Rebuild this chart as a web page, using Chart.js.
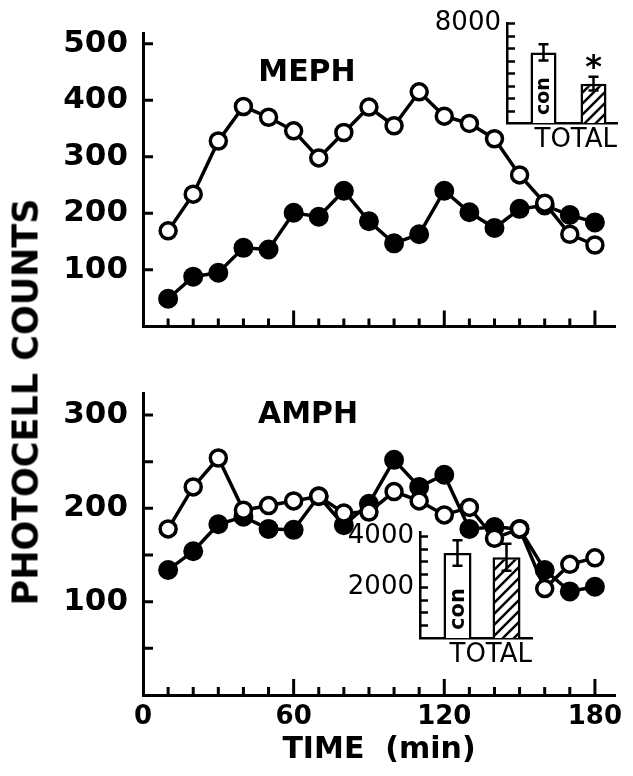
<!DOCTYPE html>
<html>
<head>
<meta charset="utf-8">
<script src="https://cdn.jsdelivr.net/npm/chart.js@4.4.1/dist/chart.umd.min.js"></script>
<style>
  body { margin: 0; background: #fff; }
  #page { position: relative; width: 633px; height: 776px; overflow: hidden; background: #fff; }
  canvas { position: absolute; }
  .lbl { position: absolute; font-family: "DejaVu Sans"; font-weight: bold; color: #000; white-space: nowrap; line-height: 1; transform: translate(-50%, -50%); }
</style>
</head>
<body>
<div id="page">
  <canvas id="mephChart" width="633" height="360" style="left:0;top:0"></canvas>
  <canvas id="amphChart" width="633" height="416" style="left:0;top:360px"></canvas>
  <canvas id="mephTotal" width="233" height="160" style="left:400px;top:0"></canvas>
  <canvas id="amphTotal" width="250" height="175" style="left:300px;top:500px"></canvas>
  <div class="lbl" style="left:26px;top:402px;font-size:35px;transform:translate(-50%,-50%) rotate(-90deg)">PHOTOCELL COUNTS</div>
  <div class="lbl" style="left:307px;top:71px;font-size:30px">MEPH</div>
  <div class="lbl" style="left:308px;top:413px;font-size:30px">AMPH</div>
</div>
<script>
// time points (min)
const times = [10, 20, 30, 40, 50, 60, 70, 80, 90, 100, 110, 120, 130, 140, 150, 160, 170, 180];

// MEPH panel
const mephControl = [169, 234, 328, 389, 370, 346, 298, 343, 388, 355, 415, 372, 359, 332, 268, 218, 163, 144];
const mephDrug = [49, 88, 95, 139, 136, 201, 194, 240, 186, 147, 163, 240, 202, 174, 208, 214, 197, 184];

// AMPH panel
const amphControl = [178, 223, 254, 198, 203, 208, 213, 195, 196, 218, 208, 193, 201, 168, 178, 114, 140, 147];
const amphDrug = [134, 154, 183, 191, 178, 177, 213, 182, 205, 252, 223, 236, 178, 180, 178, 134, 111, 116];

// insets: totals
const insetGroups = ['con', 'drug'];
const mephTotals = [5650, 3150];
const mephTotalErr = [650, 550];
const mephMarks = ['', '*'];
const amphTotals = [3330, 3160];
const amphTotalErr = [500, 530];
const amphMarks = ['', ''];

// tick labels
const timeTickLabels = [0, 60, 120, 180];
const timeMinorTicks = [10, 20, 30, 40, 50, 60, 70, 80, 90, 100, 110, 120, 130, 140, 150, 160, 170, 180];
const timeMajorTicks = [60, 120, 180];
const mephYTicks = [100, 200, 300, 400, 500];
const amphYTicks = [50, 100, 150, 200, 250, 300];
const amphYLabels = [100, 200, 300];
const mephTotalTicks = [1000, 2000, 3000, 4000, 5000, 6000, 7000, 8000];
const mephTotalLabels = [8000];
const amphTotalTicks = [500, 1000, 1500, 2000, 2500, 3000, 3500, 4000];
const amphTotalLabels = [2000, 4000];

Chart.defaults.font.family = 'DejaVu Sans';
Chart.defaults.color = '#000';

// tick marks drawn inside the axes (the figure has them pointing inward)
const innerTicks = {
  id: 'innerTicks',
  afterDraw(chart, args, opts) {
    const ctx = chart.ctx;
    const area = chart.chartArea;
    const xs = chart.scales.x, ys = chart.scales.y;
    ctx.save();
    ctx.strokeStyle = '#000';
    ctx.lineWidth = opts.width || 3;
    ctx.beginPath();
    (opts.xValues || []).forEach(v => {
      const px = xs.getPixelForValue(v);
      const len = (opts.xMajor || []).includes(v) ? opts.xMajorLen : opts.xLen;
      ctx.moveTo(px, area.bottom);
      ctx.lineTo(px, area.bottom - len);
    });
    (opts.yValues || []).forEach(v => {
      const py = ys.getPixelForValue(v);
      ctx.moveTo(area.left, py);
      ctx.lineTo(area.left + opts.yLen, py);
    });
    ctx.stroke();
    ctx.restore();
  }
};

// inward ticks, error bars, significance mark and the "con" label on the inset bars
const barExtras = {
  id: 'barExtras',
  afterDatasetsDraw(chart, args, opts) {
    const ctx = chart.ctx;
    const ys = chart.scales.y;
    const area = chart.chartArea;
    const meta = chart.getDatasetMeta(0);
    ctx.save();
    ctx.strokeStyle = '#000';
    ctx.fillStyle = '#000';
    ctx.lineWidth = 2.5;
    ctx.beginPath();
    opts.yTicks.forEach(v => {
      const py = Math.round(ys.getPixelForValue(v)) + 0.5;
      ctx.moveTo(area.left, py);
      ctx.lineTo(area.left + 8, py);
    });
    ctx.stroke();
    meta.data.forEach((bar, i) => {
      const v = opts.values[i], e = opts.errors[i];
      const yHi = ys.getPixelForValue(v + e);
      const yLo = ys.getPixelForValue(v - e);
      ctx.beginPath();
      ctx.moveTo(bar.x, yHi); ctx.lineTo(bar.x, yLo);
      ctx.moveTo(bar.x - 5, yHi); ctx.lineTo(bar.x + 5, yHi);
      ctx.moveTo(bar.x - 5, yLo); ctx.lineTo(bar.x + 5, yLo);
      ctx.stroke();
      if (opts.marks[i]) {
        ctx.font = 'bold 32px "DejaVu Sans"';
        ctx.textAlign = 'center';
        ctx.textBaseline = 'alphabetic';
        const m = ctx.measureText(opts.marks[i]);
        const cy = yHi - 15;
        ctx.fillText(opts.marks[i], bar.x, cy + (m.actualBoundingBoxAscent - m.actualBoundingBoxDescent) / 2);
      }
    });
    // group name written up the first bar
    const b = meta.data[0];
    ctx.font = 'bold ' + opts.labelSize + 'px "DejaVu Sans"';
    const w = ctx.measureText(insetGroups[0]).width;
    ctx.translate(b.x, b.base - 8 - w / 2);
    ctx.rotate(-Math.PI / 2);
    ctx.textAlign = 'center';
    ctx.textBaseline = 'middle';
    ctx.fillText(insetGroups[0], 0, 1);
    ctx.restore();
  }
};

function makeHatch() {
  const c = document.createElement('canvas');
  c.width = 11; c.height = 11;
  const g = c.getContext('2d');
  g.fillStyle = '#fff';
  g.fillRect(0, 0, 11, 11);
  g.strokeStyle = '#000';
  g.lineWidth = 2.5;
  g.beginPath();
  g.moveTo(0, 11); g.lineTo(11, 0);
  g.moveTo(-3, 3); g.lineTo(3, -3);
  g.moveTo(8, 14); g.lineTo(14, 8);
  g.stroke();
  return g.createPattern(c, 'repeat');
}

function lineSets(control, drug) {
  return [
    {
      label: 'control',
      data: times.map((t, i) => ({ x: t, y: control[i] })),
      borderColor: '#000',
      borderWidth: 3.5,
      pointRadius: 8,
      pointBorderWidth: 3.5,
      pointBackgroundColor: '#fff',
      pointBorderColor: '#000',
      tension: 0,
    },
    {
      label: 'drug',
      data: times.map((t, i) => ({ x: t, y: drug[i] })),
      borderColor: '#000',
      borderWidth: 3.5,
      pointRadius: 9,
      pointBorderWidth: 2,
      pointBackgroundColor: '#000',
      pointBorderColor: '#000',
      tension: 0,
    },
  ];
}

const axisBorder = { display: true, color: '#000', width: 3 };
const noGrid = { display: false, drawTicks: false };

// ticks come straight from the named arrays above
const useTicks = values => s => { s.ticks = values.map(v => ({ value: v })); };

// top panel (MEPH)
new Chart(document.getElementById('mephChart'), {
  type: 'line',
  data: { datasets: lineSets(mephControl, mephDrug) },
  options: {
    responsive: false,
    animation: false,
    layout: { padding: { left: 0, right: 18, top: 24, bottom: 11 } },
    plugins: {
      legend: { display: false },
      tooltip: { enabled: false },
      innerTicks: { xValues: timeMinorTicks, xMajor: timeMajorTicks, xLen: 8, xMajorLen: 16, yValues: mephYTicks, yLen: 10, width: 3 },
    },
    scales: {
      x: {
        type: 'linear', min: 0, max: 188,
        ticks: { display: false },
        grid: noGrid,
        border: axisBorder,
        afterFit(s) { s.height = 0; },
      },
      y: {
        min: 0, max: 518,
        ticks: { autoSkip: false, font: { size: 31, weight: 'bold' }, padding: 15 },
        grid: noGrid,
        border: axisBorder,
        afterFit(s) { s.width = 143; },
        afterBuildTicks: useTicks(mephYTicks),
      },
    },
  },
  plugins: [innerTicks],
});

// bottom panel (AMPH)
new Chart(document.getElementById('amphChart'), {
  type: 'line',
  data: { datasets: lineSets(amphControl, amphDrug) },
  options: {
    responsive: false,
    animation: false,
    layout: { padding: { left: 0, right: 18, top: 8, bottom: 0 } },
    plugins: {
      legend: { display: false },
      tooltip: { enabled: false },
      innerTicks: { xValues: timeMinorTicks, xMajor: timeMajorTicks, xLen: 8, xMajorLen: 16, yValues: amphYTicks, yLen: 10, width: 3 },
    },
    scales: {
      x: {
        type: 'linear', min: 0, max: 188,
        ticks: { font: { size: 26, weight: 'bold' }, padding: 7, maxRotation: 0, autoSkip: false },
        grid: noGrid,
        border: axisBorder,
        title: { display: true, text: 'TIME  (min)', font: { size: 30, weight: 'bold' }, padding: { top: 0, bottom: 8 } },
        afterFit(s) { s.height = 81; },
        afterBuildTicks: useTicks(timeTickLabels),
      },
      y: {
        min: 0, max: 323,
        ticks: {
          autoSkip: false, font: { size: 31, weight: 'bold' }, padding: 15,
          callback: v => amphYLabels.includes(v) ? v : '',
        },
        grid: noGrid,
        border: axisBorder,
        afterFit(s) { s.width = 143; },
        afterBuildTicks: useTicks(amphYTicks),
      },
    },
  },
  plugins: [innerTicks],
});

function insetChart(id, totals, errs, marks, opt) {
  const hatch = makeHatch();
  return new Chart(document.getElementById(id), {
    type: 'bar',
    data: {
      datasets: [{
        data: insetGroups.map((g, i) => ({ x: i + 1, y: totals[i] })),
        backgroundColor: ['#fff', hatch],
        borderColor: '#000',
        borderWidth: 2.5,
        grouped: false,
        barPercentage: 0.9,
        maxBarThickness: opt.barWidth,
      }],
    },
    options: {
      responsive: false,
      animation: false,
      layout: { padding: opt.padding },
      plugins: {
        legend: { display: false },
        tooltip: { enabled: false },
        barExtras: { values: totals, errors: errs, marks: marks, yTicks: opt.ticks, labelSize: opt.labelSize },
      },
      scales: {
        x: {
          type: 'linear', min: opt.xMin, max: opt.xMax, offset: false,
          ticks: { display: false },
          grid: noGrid,
          border: { display: true, color: '#000', width: 2.5 },
          title: { display: true, text: 'TOTAL', align: 'end', font: { size: 26 }, padding: { top: 0, bottom: 4 } },
          afterFit(s) { s.height = opt.xHeight; },
        },
        y: {
          min: 0, max: opt.yMax,
          ticks: {
            autoSkip: false, font: { size: 26 }, padding: 6,
            callback: v => opt.labels.includes(v) ? v : '',
          },
          grid: noGrid,
          border: { display: true, color: '#000', width: 2.5 },
          afterFit(s) { s.width = opt.yWidth; },
          afterBuildTicks: useTicks(opt.ticks),
        },
      },
    },
    plugins: [barExtras],
  });
}

insetChart('mephTotal', mephTotals, mephTotalErr, mephMarks, {
  padding: { left: 0, right: 16, top: 23, bottom: 0 },
  xMin: 0.27, xMax: 2.47, xHeight: 37, yWidth: 107, yMax: 8000,
  ticks: mephTotalTicks, labels: mephTotalLabels, barWidth: 26, labelSize: 19,
});

insetChart('amphTotal', amphTotals, amphTotalErr, amphMarks, {
  padding: { left: 0, right: 18, top: 32, bottom: 0 },
  xMin: 0.235, xMax: 2.52, xHeight: 37, yWidth: 120, yMax: 4150,
  ticks: amphTotalTicks, labels: amphTotalLabels, barWidth: 28, labelSize: 21,
});
</script>
</body>
</html>
